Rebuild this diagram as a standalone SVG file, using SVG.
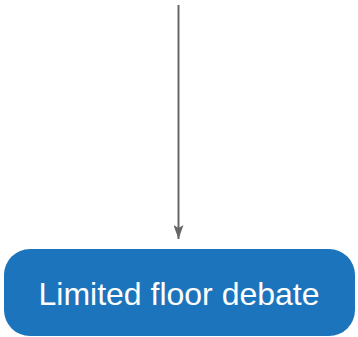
<svg xmlns="http://www.w3.org/2000/svg" width="358" height="337" viewBox="0 0 358 337">
<style>
.conn{stroke:#666;stroke-width:2;fill:none}
.box{fill:#1c75bc}
.lbl{font-family:"Liberation Sans",Arial,sans-serif;font-size:32px;fill:#fff;text-anchor:middle}
</style>
<defs>
<marker id="ah" viewBox="0 0 14 10" refX="14" refY="5" markerWidth="7" markerHeight="5" orient="auto" markerUnits="strokeWidth">
<path d="M0,0 L14,5 L0,10 L3,5 Z" fill="#666"/>
</marker>
</defs>
<g id="connectors">
<line class="conn" x1="178.5" y1="5" x2="178.5" y2="239" marker-end="url(#ah)"/>
</g>
<g id="node-limited-floor-debate">
<rect class="box" x="4" y="249" width="351" height="87" rx="26" ry="26"/>
<text class="lbl" x="179" y="305">Limited floor debate</text>
</g>
</svg>
